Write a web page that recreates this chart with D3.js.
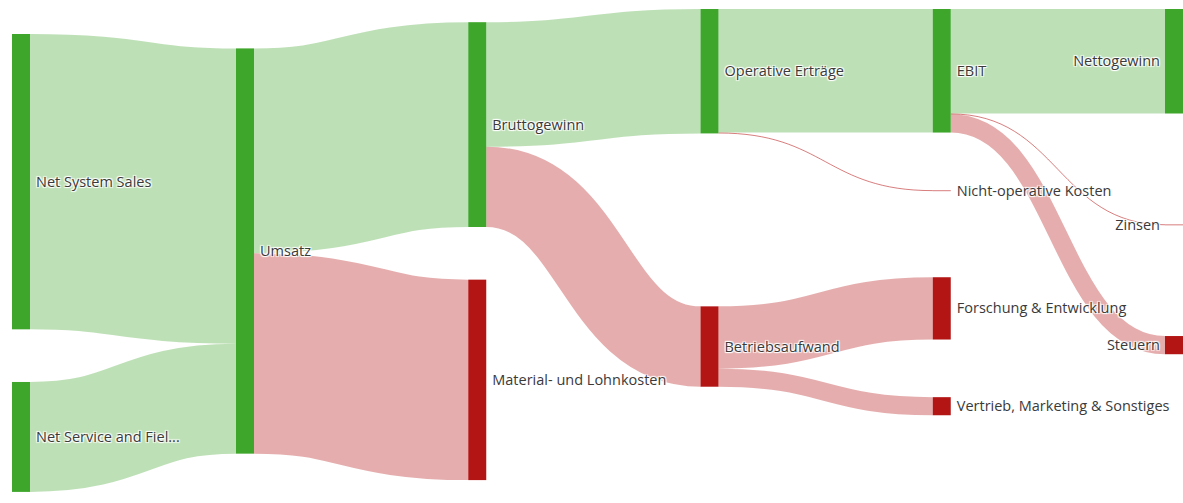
<!DOCTYPE html>
<html>
<head>
<meta charset="utf-8">
<script src="https://cdn.jsdelivr.net/npm/d3@7"></script>
<style>
  html, body { margin: 0; padding: 0; background: #fff; }
  svg { display: block; }
  .lbl { font-family: "Open Sans", "Noto Sans", sans-serif; font-size: 14.5px; fill: #3a3a3a;
         text-shadow: 1px 1px 1px #fff, -1px -1px 1px #fff, 1px -1px 1px #fff, -1px 1px 1px #fff; }
</style>
</head>
<body>
<svg id="chart" width="1183" height="503"></svg>
<script>
// ---------- data (EUR millions) ----------
const nodeNames = [
  "Net System Sales", "Net Service and Fiel...", "Umsatz", "Bruttogewinn",
  "Material- und Lohnkosten", "Operative Erträge", "Betriebsaufwand", "EBIT",
  "Nicht-operative Kosten", "Forschung & Entwicklung", "Vertrieb, Marketing & Sonstiges",
  "Nettogewinn", "Zinsen", "Steuern"
];
const nodeKinds = [
  "gain", "gain", "gain", "gain", "cost", "gain", "cost", "gain",
  "cost", "cost", "cost", "gain", "cost", "cost"
];
const linkSources = ["Net System Sales", "Net Service and Fiel...", "Umsatz", "Umsatz",
  "Bruttogewinn", "Bruttogewinn", "Operative Erträge", "Operative Erträge",
  "Betriebsaufwand", "Betriebsaufwand", "EBIT", "EBIT", "EBIT"];
const linkTargets = ["Umsatz", "Umsatz", "Bruttogewinn", "Material- und Lohnkosten",
  "Operative Erträge", "Betriebsaufwand", "EBIT", "Nicht-operative Kosten",
  "Forschung & Entwicklung", "Vertrieb, Marketing & Sonstiges", "Nettogewinn", "Zinsen", "Steuern"];
const linkValues = [15430, 5743, 10700, 10473, 6501, 4199, 6455, 46, 3254, 945, 5460, 45, 950];

// ---------- styling / geometry ----------
const extent = { x0: 12, xFirstGap: 236, x1: 1183, y0: 9, y1: 502 };
const nodeWidth = 18, fillRatio = 0.822, padShare = 0.6, iterations = 2;
const nodeColor = { gain: "#3ea62a", cost: "#b31515" };
const linkColor = { gain: "rgba(63,165,42,0.34)", cost: "rgba(180,20,20,0.35)" };
const thinLinkColor = "rgba(190,40,40,0.6)";

// ---------- sankey layout (d3-sankey style relaxation, built on d3) ----------
const nodes = nodeNames.map((name, i) => ({ name, kind: nodeKinds[i], index: i, sourceLinks: [], targetLinks: [] }));
const byName = new Map(nodes.map(n => [n.name, n]));
const links = linkValues.map((v, i) => ({ index: i, source: byName.get(linkSources[i]), target: byName.get(linkTargets[i]), value: v }));
links.forEach(l => { l.source.sourceLinks.push(l); l.target.targetLinks.push(l); });
nodes.forEach(n => n.value = Math.max(d3.sum(n.sourceLinks, l => l.value), d3.sum(n.targetLinks, l => l.value)));

{
  let current = new Set(nodes), next = new Set(), depth = 0;
  while (current.size) {
    for (const n of current) { n.depth = depth; for (const l of n.sourceLinks) next.add(l.target); }
    depth++; current = next; next = new Set();
  }
}
const nCols = d3.max(nodes, n => n.depth) + 1;
const xScale = d3.scaleLinear().domain([0, 1, nCols - 1]).range([extent.x0, extent.xFirstGap, extent.x1 - nodeWidth]);
const columns = d3.range(nCols).map(() => []);
nodes.forEach(n => { n.layer = n.depth; n.x0 = xScale(n.layer); n.x1 = n.x0 + nodeWidth; columns[n.layer].push(n); });

const y0 = extent.y0, y1 = extent.y1;
const maxColSum = d3.max(columns, c => d3.sum(c, n => n.value));
const vScale = d3.scaleLinear().domain([0, maxColSum]).range([0, (y1 - y0) * fillRatio]);
links.forEach(l => l.width = vScale(l.value));

// per-column padding: a share of the column's free space, spread between its nodes
columns.forEach(col => {
  const free = (y1 - y0) - d3.sum(col, n => vScale(n.value));
  const pad = col.length > 1 ? padShare * free / (col.length - 1) : 0;
  col.forEach(n => n.pad = pad);
});

const ascBreadth = (a, b) => a.y0 - b.y0;
const ascSrc = (a, b) => ascBreadth(a.source, b.source) || a.index - b.index;
const ascTgt = (a, b) => ascBreadth(a.target, b.target) || a.index - b.index;
function reorderLinks(ns) { for (const n of ns) { n.sourceLinks.sort(ascTgt); n.targetLinks.sort(ascSrc); } }
function reorderNodeLinks(n) {
  for (const { source } of n.targetLinks) source.sourceLinks.sort(ascTgt);
  for (const { target } of n.sourceLinks) target.targetLinks.sort(ascSrc);
}
function targetTop(source, target) {
  const p = target.pad;
  let y = source.y0 - (source.sourceLinks.length - 1) * p / 2;
  for (const { target: node, width } of source.sourceLinks) { if (node === target) break; y += width + p; }
  for (const { source: node, width } of target.targetLinks) { if (node === source) break; y -= width; }
  return y;
}
function sourceTop(source, target) {
  const p = source.pad;
  let y = target.y0 - (target.targetLinks.length - 1) * p / 2;
  for (const { source: node, width } of target.targetLinks) { if (node === source) break; y += width + p; }
  for (const { target: node, width } of source.sourceLinks) { if (node === target) break; y -= width; }
  return y;
}
function collideTopToBottom(ns, y, i, alpha, py) {
  for (; i < ns.length; ++i) { const n = ns[i]; const dy = (y - n.y0) * alpha; if (dy > 1e-6) { n.y0 += dy; n.y1 += dy; } y = n.y1 + py; }
}
function collideBottomToTop(ns, y, i, alpha, py) {
  for (; i >= 0; --i) { const n = ns[i]; const dy = (n.y1 - y) * alpha; if (dy > 1e-6) { n.y0 -= dy; n.y1 -= dy; } y = n.y0 - py; }
}
function resolveCollisions(ns, alpha) {
  const py = ns[0].pad, i = ns.length >> 1, s = ns[i];
  collideBottomToTop(ns, s.y0 - py, i - 1, alpha, py);
  collideTopToBottom(ns, s.y1 + py, i + 1, alpha, py);
  collideBottomToTop(ns, y1, ns.length - 1, alpha, py);
  collideTopToBottom(ns, y0, 0, alpha, py);
}
// initial breadths: stack, then spread the remaining room evenly
for (const col of columns) {
  const py = col[0].pad;
  let y = y0;
  for (const n of col) { n.y0 = y; n.y1 = y + vScale(n.value); y = n.y1 + py; }
  y = (y1 - y + py) / (col.length + 1);
  col.forEach((n, i) => { n.y0 += y * (i + 1); n.y1 += y * (i + 1); });
  reorderLinks(col);
}
for (let i = 0; i < iterations; ++i) {
  const alpha = Math.pow(0.99, i), beta = Math.max(1 - alpha, (i + 1) / iterations);
  for (let c = columns.length - 2; c >= 0; --c) {
    for (const s of columns[c]) {
      let y = 0, w = 0;
      for (const { target, value } of s.sourceLinks) { const v = value * (target.layer - s.layer); y += sourceTop(s, target) * v; w += v; }
      if (!(w > 0)) continue;
      const dy = (y / w - s.y0) * alpha; s.y0 += dy; s.y1 += dy; reorderNodeLinks(s);
    }
    resolveCollisions(columns[c], beta);
  }
  for (let c = 1; c < columns.length; ++c) {
    for (const t of columns[c]) {
      let y = 0, w = 0;
      for (const { source, value } of t.targetLinks) { const v = value * (t.layer - source.layer); y += targetTop(source, t) * v; w += v; }
      if (!(w > 0)) continue;
      const dy = (y / w - t.y0) * alpha; t.y0 += dy; t.y1 += dy; reorderNodeLinks(t);
    }
    resolveCollisions(columns[c], beta);
  }
}
for (const n of nodes) {
  let a = n.y0, b = n.y0;
  for (const l of n.sourceLinks) { l.y0 = a + l.width / 2; a += l.width; }
  for (const l of n.targetLinks) { l.y1 = b + l.width / 2; b += l.width; }
}

// ---------- render ----------
const svg = d3.select("#chart");
const linkPath = d3.linkHorizontal().source(d => [d.source.x1, d.y0]).target(d => [d.target.x0, d.y1]);
svg.append("g").selectAll("path").data(links).join("path")
  .attr("d", linkPath)
  .attr("fill", "none")
  .attr("stroke", d => d.width < 1.5 ? thinLinkColor : linkColor[d.target.kind])
  .attr("stroke-width", d => Math.max(1, d.width));
svg.append("g").selectAll("rect").data(nodes).join("rect")
  .attr("x", d => d.x0).attr("y", d => d.y0)
  .attr("width", d => d.x1 - d.x0).attr("height", d => Math.max(1, d.y1 - d.y0))
  .attr("fill", d => (d.y1 - d.y0) < 1.5 ? thinLinkColor : nodeColor[d.kind]);
svg.append("g").selectAll("text").data(nodes).join("text")
  .attr("class", "lbl")
  .attr("x", d => d.layer === nCols - 1 ? d.x0 - 5 : d.x1 + 6)
  .attr("y", d => (d.y0 + d.y1) / 2)
  .attr("dy", "0.35em")
  .attr("text-anchor", d => d.layer === nCols - 1 ? "end" : "start")
  .text(d => d.name);
</script>
</body>
</html>
